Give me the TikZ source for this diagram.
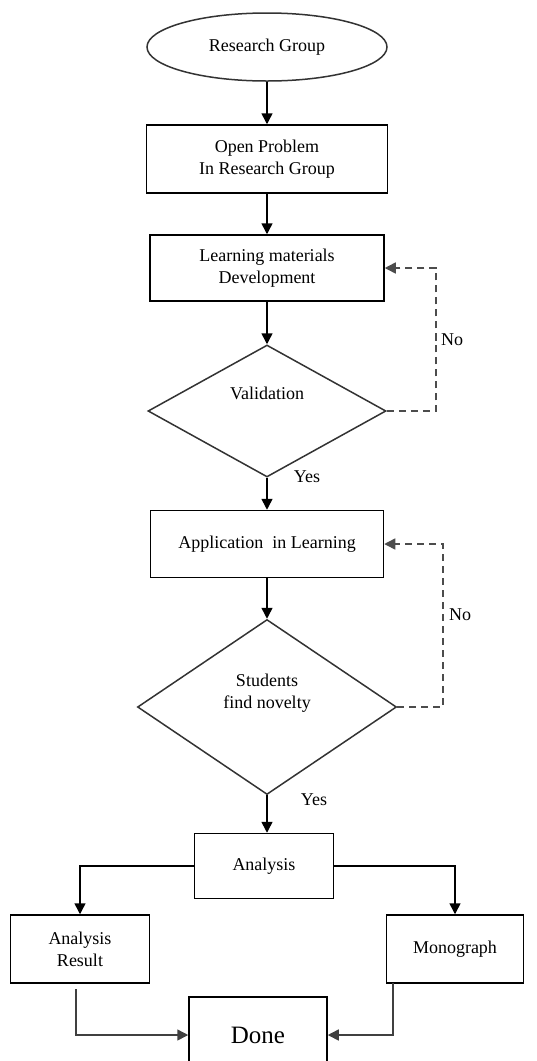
\documentclass[tikz,border=0pt]{standalone}
\usepackage{fontspec}
\setmainfont{Liberation Serif}
\usetikzlibrary{shapes.geometric,arrows.meta}

\begin{document}
\begin{tikzpicture}[x=1pt,y=-1pt,line width=1.5pt,>={Triangle[length=11pt,width=11pt]},
  box/.style={shape=rectangle,draw=black,align=center,font=\fontsize{18}{22}\selectfont},
  decision/.style={shape=diamond,draw=black!80,align=center,inner sep=0pt,font=\fontsize{18}{22}\selectfont},
  noloop/.style={draw=black!70,dashed,dash pattern=on 7pt off 5pt}]
\useasboundingbox (0,0) rectangle (537,1061);
\node[shape=ellipse,draw=black!80,minimum width=240pt,minimum height=68pt,font=\fontsize{18}{22}\selectfont](rg) at (267,47) {Research Group};
\node[box,minimum width=241pt,minimum height=68pt](op) at (267,159) {Open Problem\\In Research Group};
\node[box,minimum width=234pt,minimum height=66pt](lm) at (267,268) {Learning materials\\Development};
\node[decision,minimum width=238pt,minimum height=132pt](val) at (267,411) {Validation\\[14pt]};
\node[box,minimum width=233pt,minimum height=67pt](app) at (267,544) {Application\ \ in Learning};
\node[decision,minimum width=259pt,minimum height=175pt](nov) at (267,707) {Students\\find novelty\\[10pt]};
\node[box,minimum width=139pt,minimum height=65pt](an) at (264,866) {Analysis};
\node[box,minimum width=139pt,minimum height=68pt](ar) at (80,949) {Analysis\\Result};
\node[box,minimum width=137pt,minimum height=68pt](mo) at (455,949) {Monograph};
\node[box,minimum width=138pt,minimum height=76pt,font=\fontsize{25}{28}\selectfont](done) at (258,1035) {Done};

\coordinate (no1) at (436,340);
\coordinate (no2) at (443,615);
\coordinate (ar1) at (76,989);
\coordinate (mo1) at (393,983);

\path [->] (rg) edge (op);
\path [->] (op) edge (lm);
\path [->] (lm) edge (val);
\path [->] (val) edge (app);
\path [->] (app) edge (nov);
\path [->] (nov.south) edge (an.north -| nov.south);

\node[font=\fontsize{18}{22}\selectfont] (yes1) at (307,477) {Yes};
\node[font=\fontsize{18}{22}\selectfont] (yes2) at (314,800) {Yes};

\draw[noloop,->] (val.east) -| (no1) |- (lm.east);
\node[font=\fontsize{18}{22}\selectfont,anchor=west] (nolab1) at (437,340) {No};
\draw[noloop,->] (nov.east) -| (no2) |- (app.east);
\node[font=\fontsize{18}{22}\selectfont,anchor=west] (nolab2) at (445,615) {No};

\draw[->] (an.west) -| (ar.north);
\draw[->] (an.east) -| (mo.north);
\draw[->,draw=black!75] (ar1) |- (done.west);
\draw[->,draw=black!75] (mo1) |- (done.east);
\end{tikzpicture}
\end{document}
